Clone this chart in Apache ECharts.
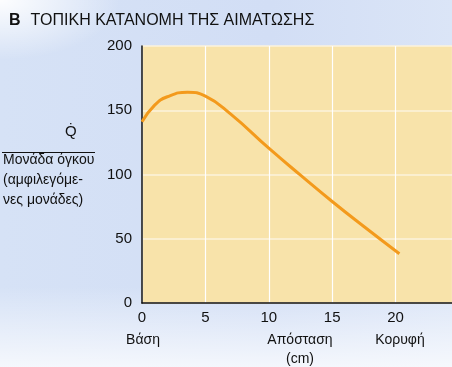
<!DOCTYPE html>
<html><head><meta charset="utf-8">
<script src="https://cdn.jsdelivr.net/npm/echarts@6/dist/echarts.min.js"></script>
<style>html,body{margin:0;padding:0;}
#c{width:452px;height:367px;background:
 linear-gradient(180deg, rgba(255,255,255,0) 0%, rgba(255,255,255,0) 78%, rgba(255,255,255,0.75) 100%),
 radial-gradient(ellipse 120px 60px at 0px 0px, rgba(255,255,255,0.95), rgba(255,255,255,0)),
 linear-gradient(90deg,#d6e2f6 0%,#d2def5 60%,#dbe5f7 100%);}
</style>
</head><body><div id="c"></div>
<script>
var distance = [0, 1, 2, 3.6, 5, 7, 10, 12.5, 15, 17.5, 20.3];
var flow = [141, 154, 160.5, 164, 161, 147, 120.5, 99.5, 79, 59.5, 38.3];
var xTicks = [0, 5, 10, 15, 20];
var yTicks = [0, 50, 100, 150, 200];
var titleLetter = 'B';
var titleText = 'ΤΟΠΙΚΗ ΚΑΤΑΝΟΜΗ ΤΗΣ ΑΙΜΑΤΩΣΗΣ';
var yLabelTop = 'Q\u0307';
var yLabelLines = ['Μονάδα όγκου', '(αμφιλεγόμε-', 'νες μονάδες)'];
var xSubLabels = ['Βάση', 'Απόσταση', '(cm)', 'Κορυφή'];

var FONT = '"Liberation Sans Narrow","Liberation Sans",Arial,sans-serif';
var chart = echarts.init(document.getElementById('c'), null, {renderer: 'canvas'});
var pts = distance.map(function (d, i) { return [d, flow[i]]; });
chart.setOption({
  animation: false,
  title: {
    left: 4, top: 7,
    text: '{b|' + titleLetter + '}  {t|' + titleText + '}',
    textStyle: {
      rich: {
        b: {fontFamily: FONT, fontWeight: 'bold', fontSize: 16, color: '#111'},
        t: {fontFamily: FONT, fontWeight: 'normal', fontSize: 16, color: '#111'}
      }
    }
  },
  grid: {left: 142, right: 0, top: 46, bottom: 64, show: true, backgroundColor: '#f8e3aa', borderWidth: 0},
  xAxis: {
    type: 'value', min: 0, max: 24.45, interval: 5,
    axisLine: {show: true, lineStyle: {color: '#111', width: 1.5}},
    axisTick: {show: false},
    axisLabel: {showMaxLabel: false, fontFamily: FONT, fontSize: 15, color: '#111', margin: 7,
      formatter: function (v) { return xTicks.indexOf(v) >= 0 ? String(v) : ''; }},
    splitLine: {show: true, lineStyle: {color: '#ffffff', width: 1.2}}
  },
  yAxis: {
    type: 'value', min: 0, max: 200, interval: 50,
    axisLine: {show: true, lineStyle: {color: '#111', width: 1.5}},
    axisTick: {show: false},
    axisLabel: {fontFamily: FONT, fontSize: 15, color: '#111', margin: 10,
      formatter: function (v) { return yTicks.indexOf(v) >= 0 ? String(v) : ''; }},
    splitLine: {show: true, lineStyle: {color: '#fdf3dc', width: 1.5}}
  },
  series: [{
    type: 'line', data: pts, smooth: 0.5, showSymbol: false,
    lineStyle: {color: '#f39a1c', width: 3}, z: 5
  }],
  graphic: [
    {type: 'text', left: 65, top: 124, style: {text: yLabelTop, font: '15px ' + FONT, fill: '#111'}},
    {type: 'line', shape: {x1: 2, y1: 152.5, x2: 95, y2: 152.5}, style: {stroke: '#111', lineWidth: 1}},
    {type: 'text', left: 3, top: 153, style: {text: yLabelLines[0], font: '14px ' + FONT, fill: '#111'}},
    {type: 'text', left: 3, top: 173, style: {text: yLabelLines[1], font: '14px ' + FONT, fill: '#111'}},
    {type: 'text', left: 3, top: 193, style: {text: yLabelLines[2], font: '14px ' + FONT, fill: '#111'}},
    {type: 'text', x: 143, y: 340, style: {text: xSubLabels[0], font: '14px ' + FONT, fill: '#111', align: 'center', verticalAlign: 'middle'}},
    {type: 'text', x: 300, y: 340, style: {text: xSubLabels[1], font: '14px ' + FONT, fill: '#111', align: 'center', verticalAlign: 'middle'}},
    {type: 'text', x: 300, y: 359, style: {text: xSubLabels[2], font: '14px ' + FONT, fill: '#111', align: 'center', verticalAlign: 'middle'}},
    {type: 'text', x: 400, y: 340, style: {text: xSubLabels[3], font: '14px ' + FONT, fill: '#111', align: 'center', verticalAlign: 'middle'}}
  ]
});
</script></body></html>
